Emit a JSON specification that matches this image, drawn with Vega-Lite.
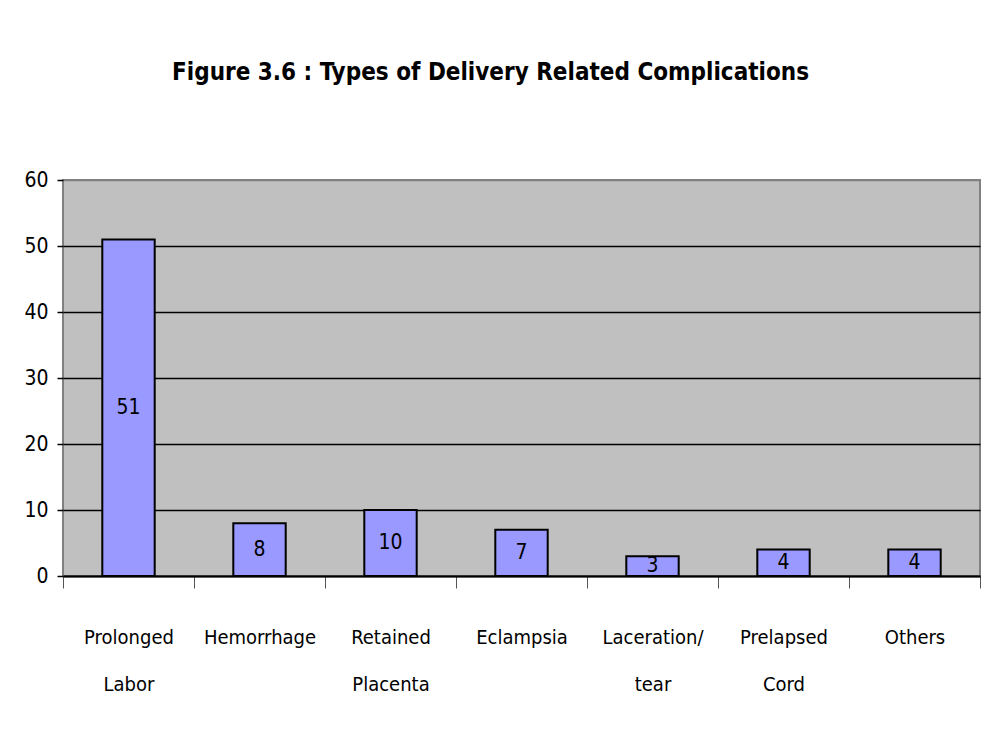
{
  "$schema": "https://vega.github.io/schema/vega-lite/v6.json",
  "width": 917,
  "height": 396,
  "autosize": {"type": "none"},
  "padding": {"left": 63, "top": 180, "right": 2, "bottom": 164},
  "background": "white",
  "title": {
    "text": "Figure 3.6 : Types of Delivery Related Complications",
    "font": "'Liberation Sans Narrow', 'DejaVu Sans Condensed', 'Liberation Sans', sans-serif",
    "fontSize": 24,
    "fontWeight": "bold",
    "color": "black",
    "anchor": "middle",
    "offset": 84,
    "dx": -31
  },
  "data": {
    "values": [
      {"type": "Prolonged Labor", "count": 51},
      {"type": "Hemorrhage", "count": 8},
      {"type": "Retained Placenta", "count": 10},
      {"type": "Eclampsia", "count": 7},
      {"type": "Laceration/ tear", "count": 3},
      {"type": "Prelapsed Cord", "count": 4},
      {"type": "Others", "count": 4}
    ]
  },
  "config": {
    "view": {"fill": "#C0C0C0", "stroke": "#808080", "strokeWidth": 2}
  },
  "encoding": {
    "x": {
      "field": "type",
      "type": "nominal",
      "sort": null,
      "scale": {"paddingInner": 0, "paddingOuter": 0},
      "axis": {
        "title": null,
        "labelAngle": 0,
        "labelExpr": "datum.value ? split(datum.value, ' ') : ''",
        "labelFont": "'Liberation Sans Narrow', 'DejaVu Sans Condensed', 'Liberation Sans', sans-serif",
        "labelFontSize": 20,
        "labelLineHeight": 47,
        "labelColor": "black",
        "labelBaseline": "top",
        "labelPadding": 39,
        "tickBand": "extent",
        "tickSize": 12,
        "tickColor": "#555555",
        "tickWidth": 1,
        "domainColor": "black",
        "domainWidth": 2,
        "grid": false
      }
    },
    "y": {
      "field": "count",
      "type": "quantitative",
      "scale": {"domain": [0, 60], "nice": false},
      "axis": {
        "title": null,
        "values": [0, 10, 20, 30, 40, 50, 60],
        "domain": false,
        "labelFont": "'Liberation Sans Narrow', 'DejaVu Sans Condensed', 'Liberation Sans', sans-serif",
        "labelFontSize": 21,
        "labelColor": "black",
        "labelPadding": 9,
        "tickSize": 6,
        "tickColor": "black",
        "tickWidth": 1.5,
        "grid": true,
        "gridColor": {"condition": {"test": "datum.value == 60", "value": "#808080"}, "value": "black"},
        "gridWidth": 1.5,
        "gridOpacity": 1
      }
    }
  },
  "layer": [
    {
      "mark": {"type": "bar", "width": {"band": 0.4}, "fill": "#9999FF", "stroke": "black", "strokeWidth": 2}
    },
    {
      "transform": [{"calculate": "datum.count / 2", "as": "mid"}],
      "mark": {"type": "text", "font": "'Liberation Sans Narrow', 'DejaVu Sans Condensed', 'Liberation Sans', sans-serif", "fontSize": 21, "color": "black", "baseline": "middle", "align": "center"},
      "encoding": {
        "y": {"field": "mid", "type": "quantitative"},
        "text": {"field": "count", "type": "quantitative"}
      }
    }
  ]
}
